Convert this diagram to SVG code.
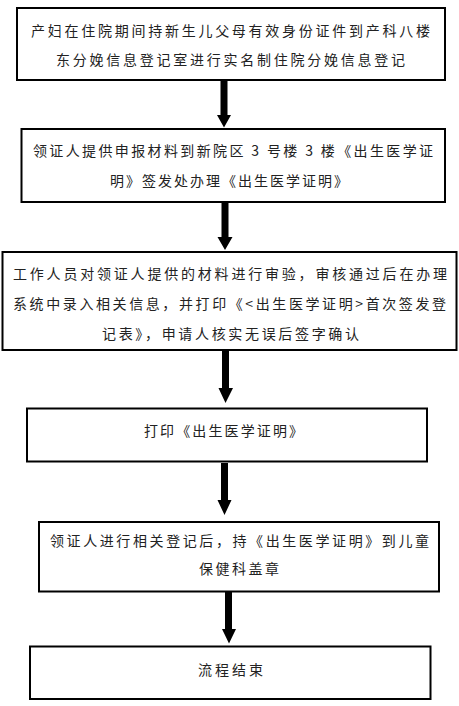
<svg xmlns="http://www.w3.org/2000/svg" width="459" height="706" viewBox="0 0 459 706">
<style>
.box{fill:#fff;stroke:#000;stroke-width:2}
.t{font-family:"Noto Sans CJK SC","Noto Sans",sans-serif;font-size:14px;fill:#222}
.arr{fill:#000}
</style>
<rect x="0" y="0" width="459" height="706" fill="#fff"/>
<g id="connectors">
<polygon class="arr" points="220.5,81 227.5,81 227.5,115 231,115 224,127.5 217,115 220.5,115"/>
<polygon class="arr" points="221.5,203 228.5,203 228.5,237 232.5,237 225,250 217.5,237 221.5,237"/>
<polygon class="arr" points="222,351 229,351 229,388 233,388 225.5,403 218.5,388 222,388"/>
<polygon class="arr" points="221,463 228,463 228,500 231.5,500 224.5,515 217.5,500 221,500"/>
<polygon class="arr" points="225,592 232,592 232,629 236,629 229,643.5 222,629 225,629"/>
</g>
<g id="node1">
<rect class="box" x="17" y="8" width="428" height="72"/>
<text class="t" x="31" y="35.5" textLength="399" lengthAdjust="spacing">产妇在住院期间持新生儿父母有效身份证件到产科八楼</text>
<text class="t" x="56" y="65" textLength="349" lengthAdjust="spacing">东分娩信息登记室进行实名制住院分娩信息登记</text>
</g>
<g id="node2">
<rect class="box" x="21.5" y="129" width="423.5" height="73"/>
<text class="t" x="33" y="155.8" textLength="400" lengthAdjust="spacing">领证人提供申报材料到新院区 3 号楼 3 楼《出生医学证</text>
<text class="t" x="110" y="186" textLength="238" lengthAdjust="spacing">明》签发处办理《出生医学证明》</text>
</g>
<g id="node3">
<rect class="box" x="2.5" y="252" width="454" height="98"/>
<text class="t" x="13" y="278.5" textLength="434" lengthAdjust="spacing">工作人员对领证人提供的材料进行审验，审核通过后在办理</text>
<text class="t" x="13" y="308.5" textLength="433" lengthAdjust="spacing">系统中录入相关信息，并打印《&lt;出生医学证明&gt;首次签发登</text>
<text class="t" x="102" y="338.5" textLength="257" lengthAdjust="spacing">记表》，申请人核实无误后签字确认</text>
</g>
<g id="node4">
<rect class="box" x="27" y="408.5" width="400" height="53"/>
<text class="t" x="144" y="436" textLength="159" lengthAdjust="spacing">打印《出生医学证明》</text>
</g>
<g id="node5">
<rect class="box" x="39" y="522" width="400" height="69.5"/>
<text class="t" x="50" y="545.5" textLength="379" lengthAdjust="spacing">领证人进行相关登记后，持《出生医学证明》到儿童</text>
<text class="t" x="199" y="574" textLength="80" lengthAdjust="spacing">保健科盖章</text>
</g>
<g id="node6">
<rect class="box" x="30" y="646.5" width="400.5" height="52.5"/>
<text class="t" x="198" y="674.5" textLength="65" lengthAdjust="spacing">流程结束</text>
</g>
</svg>
